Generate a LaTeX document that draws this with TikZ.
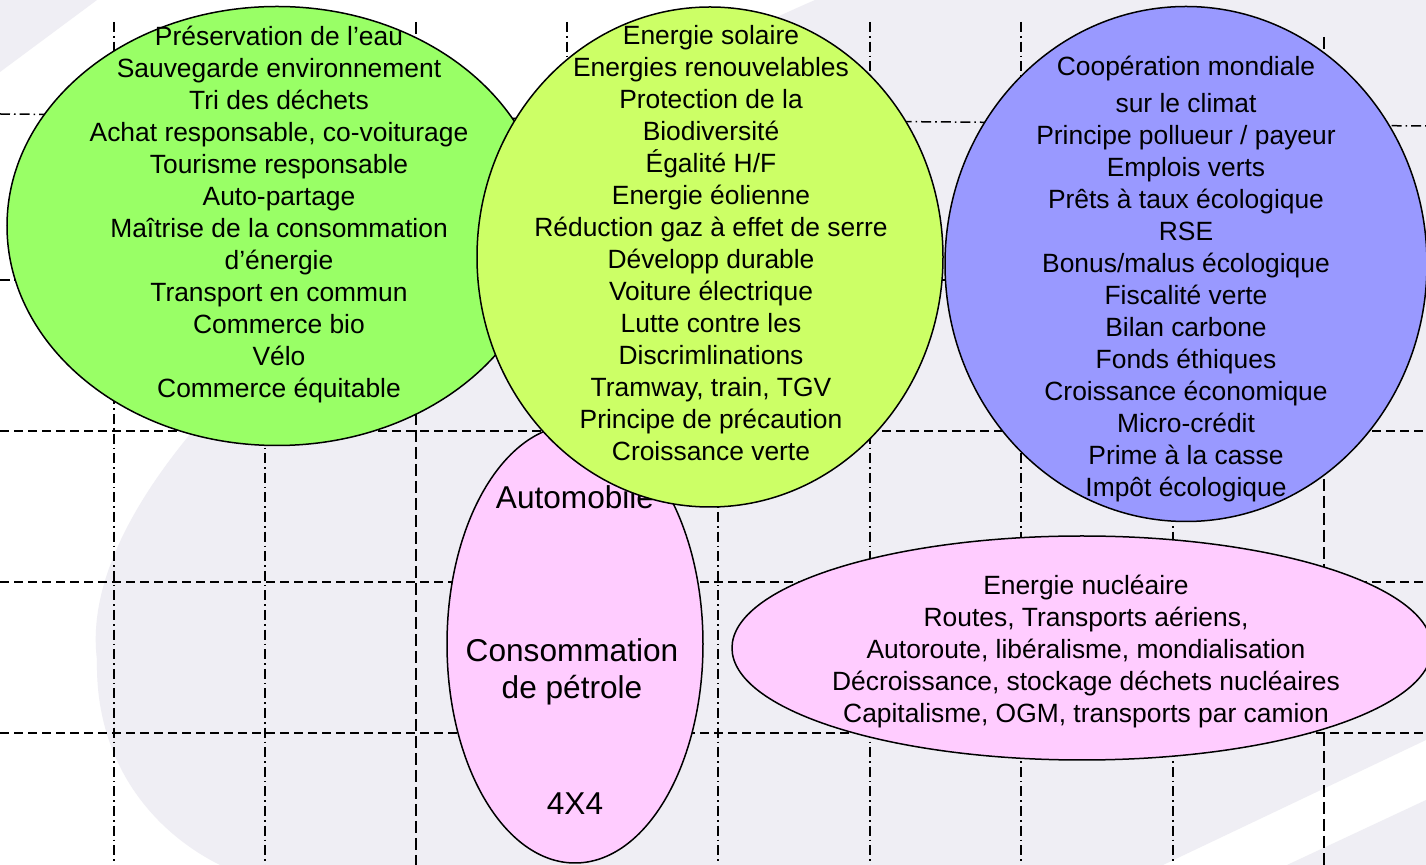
\documentclass[tikz,border=0pt]{standalone}
\usepackage{fontspec}
\setmainfont{Liberation Sans}
\usetikzlibrary{shapes.geometric}
\definecolor{bggrey}{RGB}{239,238,244}
\definecolor{leafgreen}{HTML}{99FF66}
\definecolor{limegreen}{HTML}{CCFF66}
\definecolor{bluish}{HTML}{9999FF}
\definecolor{pinkish}{HTML}{FFCCFF}

\begin{document}
\begin{tikzpicture}[x=0.5pt,y=-0.5pt,
  blob/.style={draw, ellipse, line width=0.75pt, inner sep=0pt},
  words/.style={align=center, inner sep=0pt, font=\fontsize{13.2}{16}\selectfont},
  bigwords/.style={align=center, inner sep=0pt, font=\fontsize{15.8}{18.5}\selectfont},
  dashdot/.style={line width=0.75pt, dash pattern=on 5pt off 2pt on 0.8pt off 2pt},
  longdash/.style={line width=0.75pt, dash pattern=on 6pt off 2.5pt},
  shortdash/.style={line width=0.75pt, dash pattern=on 4.5pt off 2.5pt}]
\useasboundingbox (0,0) rectangle (1426,865);
% background
\fill[white] (0,0) rectangle (1426,865);
\fill[bggrey] (0,0) -- (97,0) -- (0,72) -- cycle;
\fill[bggrey] (815,0) .. controls (470,150) and (70,450) .. (97,660)
  .. controls (95,760) and (150,830) .. (220,865) -- (1163,865) -- (1426,740) -- (1426,0) -- cycle;
\fill[bggrey] (1287,865) -- (1426,800) -- (1426,865) -- cycle;

% grid
\path[draw,dashdot] (0,114) -- (1426,126);
\path[draw,dashdot] (0,280) -- (1426,280);
\path[draw,shortdash] (0,431) -- (1426,431);
\path[draw,shortdash] (0,582) -- (1426,582);
\path[draw,shortdash] (0,733) -- (1426,733);
\path[draw,dashdot] (114,22) -- (114,865);
\path[draw,dashdot] (265,22) -- (265,865);
\path[draw,longdash] (416,22) -- (416,865);
\path[draw,dashdot] (567,22) -- (567,865);
\path[draw,dashdot] (718,22) -- (718,865);
\path[draw,dashdot] (870,22) -- (870,865);
\path[draw,dashdot] (1021,22) -- (1021,865);
\path[draw,dashdot] (1173,22) -- (1173,865);
\path[draw,longdash] (1324,37) -- (1324,865);

% green
\node[blob, fill=leafgreen, minimum width=270pt, minimum height=219.5pt] (green) at (277,226) {};
\node[words] (greentext) at (279,215) {Préservation de l’eau\\Sauvegarde environnement\\Tri des déchets\\Achat responsable, co-voiturage\\Tourisme responsable\\Auto-partage\\Maîtrise de la consommation\\d’énergie\\Transport en commun\\Commerce bio\\Vélo\\Commerce équitable};

% car
\node[blob, fill=pinkish, minimum width=128pt, minimum height=219pt] (car) at (575,644) {};
\node[bigwords] (cartop) at (575,497) {Automobile};
\node[bigwords] (carmid) at (572,672) {Consommation\\de pétrole};
\node[bigwords] (carbottom) at (575,804) {4X4};

% lime
\node[blob, fill=limegreen, minimum width=233pt, minimum height=250pt] (lime) at (710,257) {};
\node[words] (limetext) at (711,243) {Energie solaire\\Energies renouvelables\\Protection de la\\Biodiversité\\Égalité H/F\\Energie éolienne\\Réduction gaz à effet de serre\\Développ durable\\Voiture électrique\\Lutte contre les\\Discrimlinations\\Tramway, train, TGV\\Principe de précaution\\Croissance verte};

% blue
\node[blob, fill=bluish, minimum width=241pt, minimum height=257.5pt] (blue) at (1186,264) {};
\node[words] (bluetext) at (1186,279) {Coopération mondiale\\[2.5pt]sur le climat\\Principe pollueur / payeur\\Emplois verts\\Prêts à taux écologique\\RSE\\Bonus/malus écologique\\Fiscalité verte\\Bilan carbone\\Fonds éthiques\\Croissance économique\\Micro-crédit\\Prime à la casse\\Impôt écologique};

% road
\node[blob, fill=pinkish, minimum width=350pt, minimum height=112pt] (road) at (1082,648) {};
\node[words] (roadtext) at (1086,652) {Energie nucléaire\\Routes, Transports aériens,\\Autoroute, libéralisme, mondialisation\\Décroissance, stockage déchets nucléaires\\Capitalisme, OGM, transports par camion};
\end{tikzpicture}
\end{document}
